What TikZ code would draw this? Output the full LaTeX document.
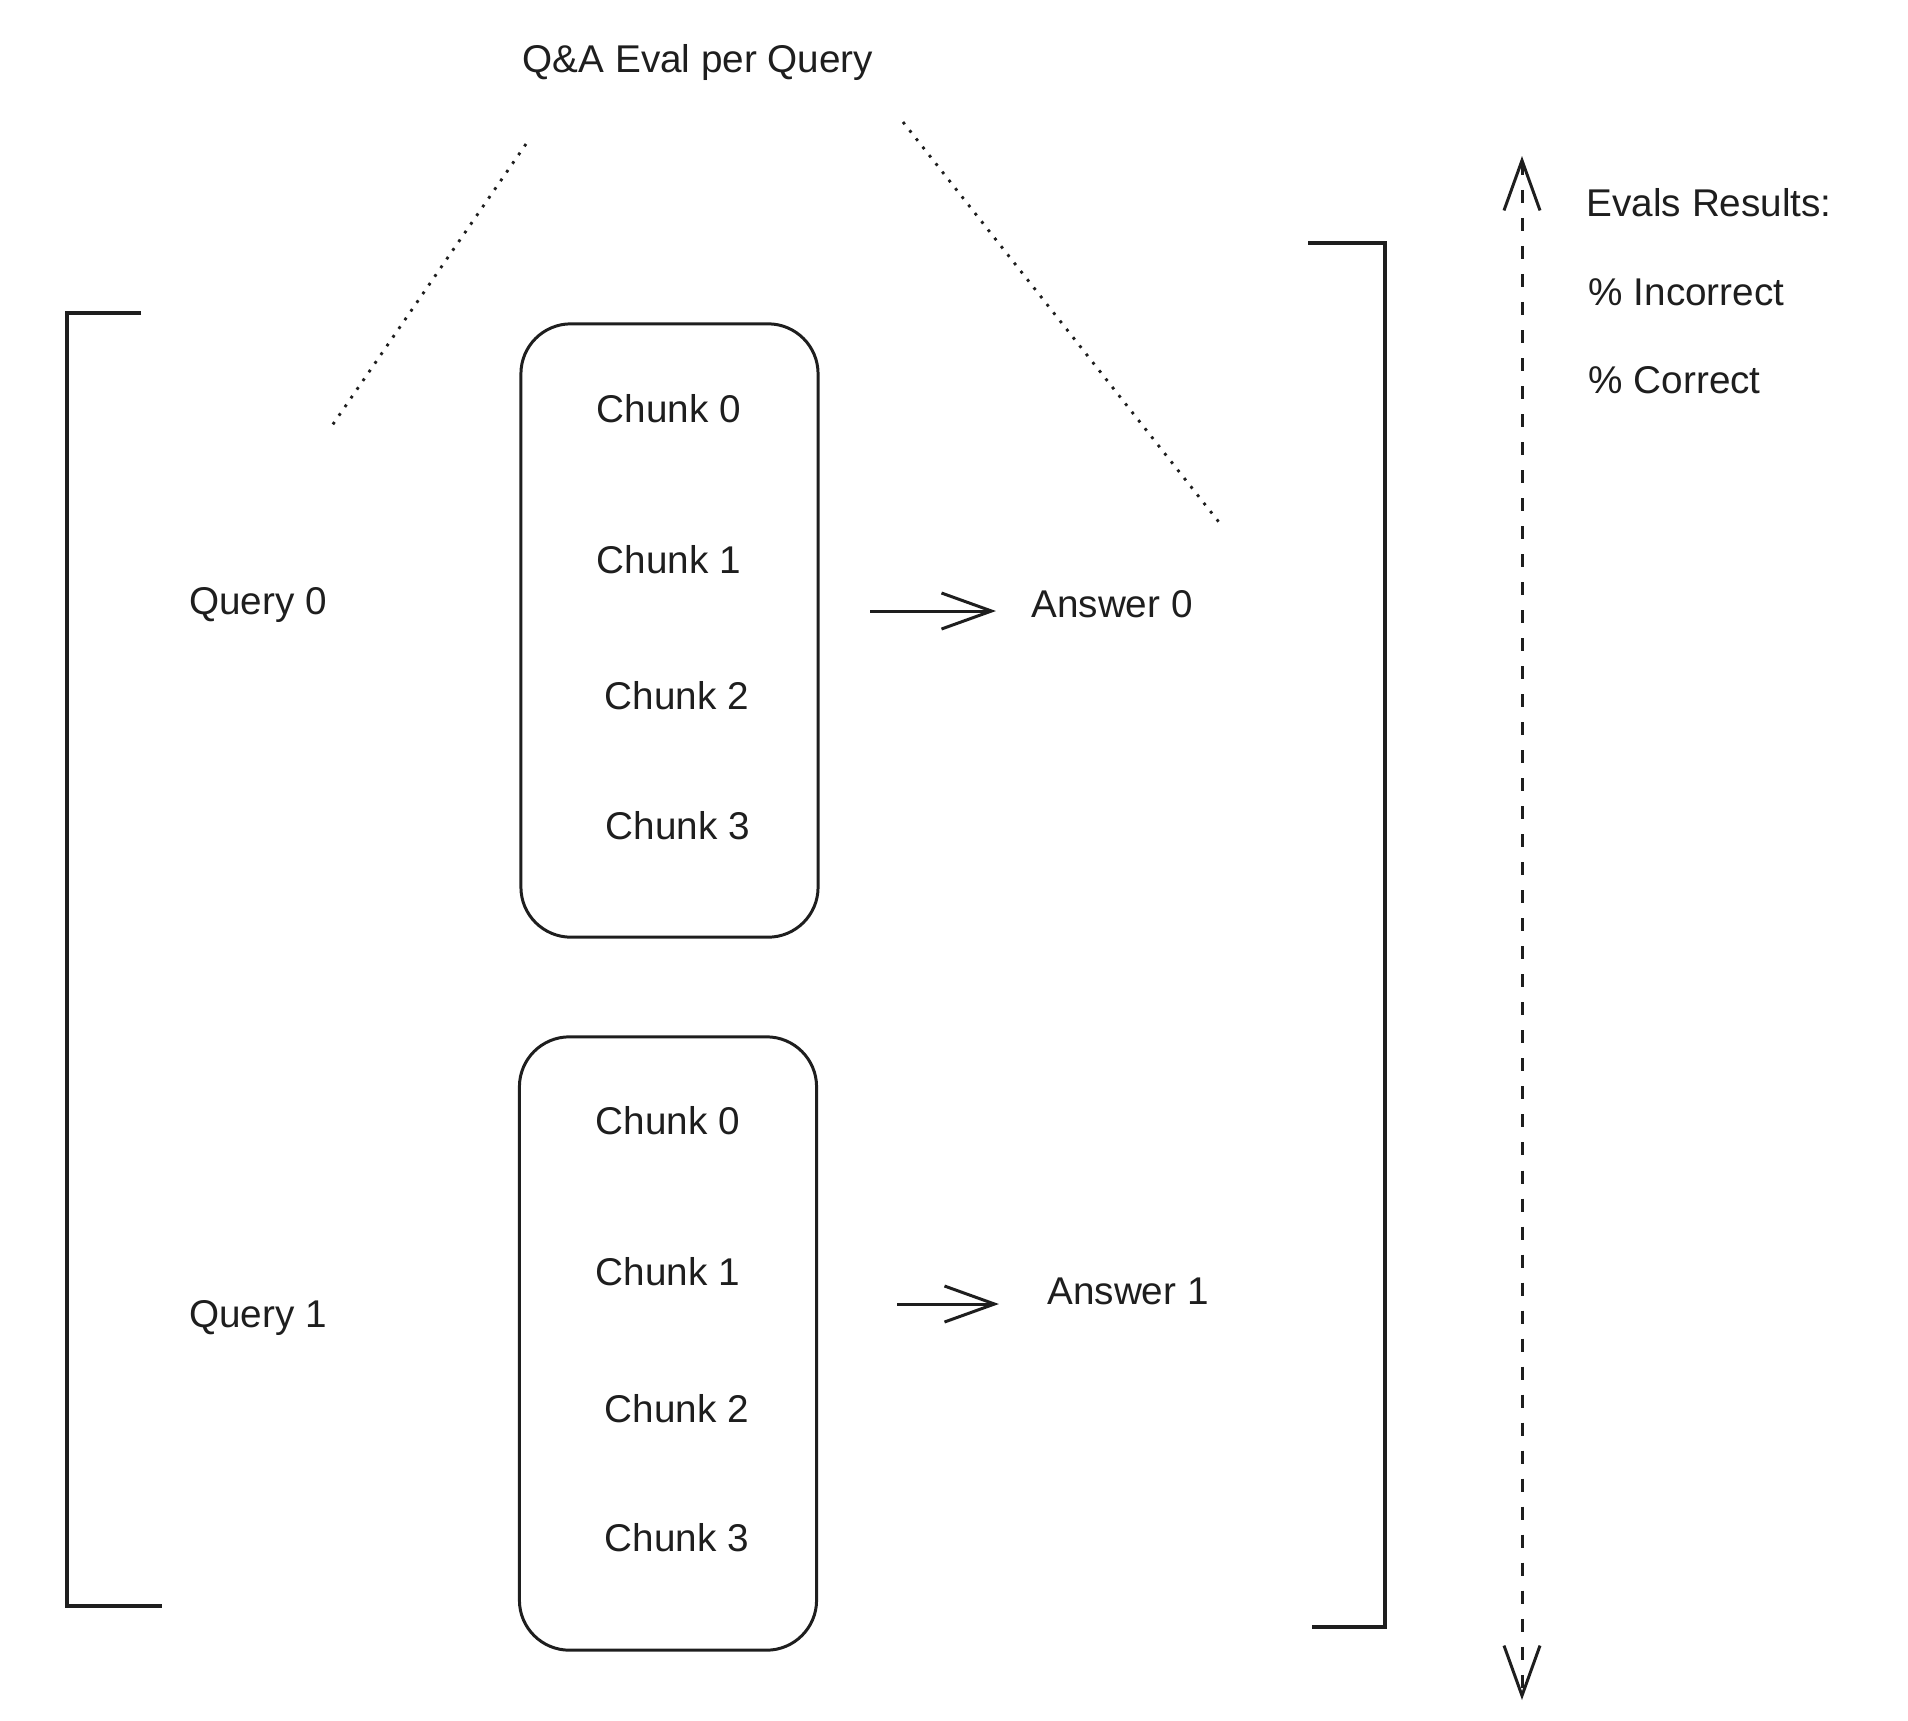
\documentclass[tikz,border=0pt]{standalone}
\usepackage{fontspec}
\setmainfont{Liberation Sans}
\usetikzlibrary{arrows.meta}
\definecolor{ink}{HTML}{1E1E1E}
\tikzset{
  lbl/.style={font=\fontsize{11}{13}\selectfont, text=ink},
  chunkbox/.style={draw=ink, line width=0.85pt, rounded corners=0.5cm,
    minimum width=2.97cm, minimum height=6.13cm},
  arr/.style={draw=ink, line width=0.85pt, -{Straight Barb[length=5mm,width=3.6mm]}},
  brack/.style={draw=ink, line width=1.1pt},
  zoomline/.style={draw=ink, line width=0.8pt, dash pattern=on 0.8pt off 2.2pt}
}
\begin{document}
\begin{tikzpicture}[x=0.01cm, y=-0.01cm]
\useasboundingbox (0,0) rectangle (1908,1720);
\node[lbl] (title) at (698,62) {Q\&A Eval per Query};
\draw[zoomline] (526,144)--(329,430);
\draw[zoomline] (903,122)--(1222,526);
\draw[brack] (141,313)--(67,313)--(67,1606)--(162,1606);
\draw[brack] (1308,243)--(1385,243)--(1385,1627)--(1312,1627);
\node[lbl] (q0) at (258,605) {Query 0};
\node[lbl] (q1) at (258,1318) {Query 1};
\node[chunkbox] (box0) at (669.5,630.5) {};
\node[chunkbox] (box1) at (668,1343.5) {};
\node[lbl] (c00) at (669,409) {Chunk 0};
\node[lbl] (c01) at (669,560) {Chunk 1};
\node[lbl] (c02) at (677,696) {Chunk 2};
\node[lbl] (c03) at (678,826) {Chunk 3};
\node[lbl] (c10) at (668,1121) {Chunk 0};
\node[lbl] (c11) at (668,1272) {Chunk 1};
\node[lbl] (c12) at (677,1409) {Chunk 2};
\node[lbl] (c13) at (677,1538) {Chunk 3};
\node[lbl] (ans0) at (1112,604) {Answer 0};
\node[lbl] (ans1) at (1128,1291) {Answer 1};
\coordinate (s0) at (870,611);
\coordinate (s1) at (897,1304);
\draw[arr, shorten >=0.23cm] (s0)--(s0 -| ans0.west);
\draw[arr, shorten >=0.36cm] (s1)--(s1 -| ans1.west);
\coordinate (top) at (1522,156);
\coordinate (bot) at (1522,1700);
\draw[arr, {Straight Barb[length=5mm,width=3.6mm]}-{Straight Barb[length=5mm,width=3.6mm]},
  dash pattern=on 0.13cm off 0.15cm] (top)--(bot);
\node[lbl, anchor=west, inner sep=0pt] (res) at (1586,203) {Evals Results:};
\node[lbl, anchor=west, inner sep=0pt] (inc) at (1588,292) {\% Incorrect};
\node[lbl, anchor=west, inner sep=0pt] (cor) at (1588,380) {\% Correct};
\end{tikzpicture}
\end{document}
